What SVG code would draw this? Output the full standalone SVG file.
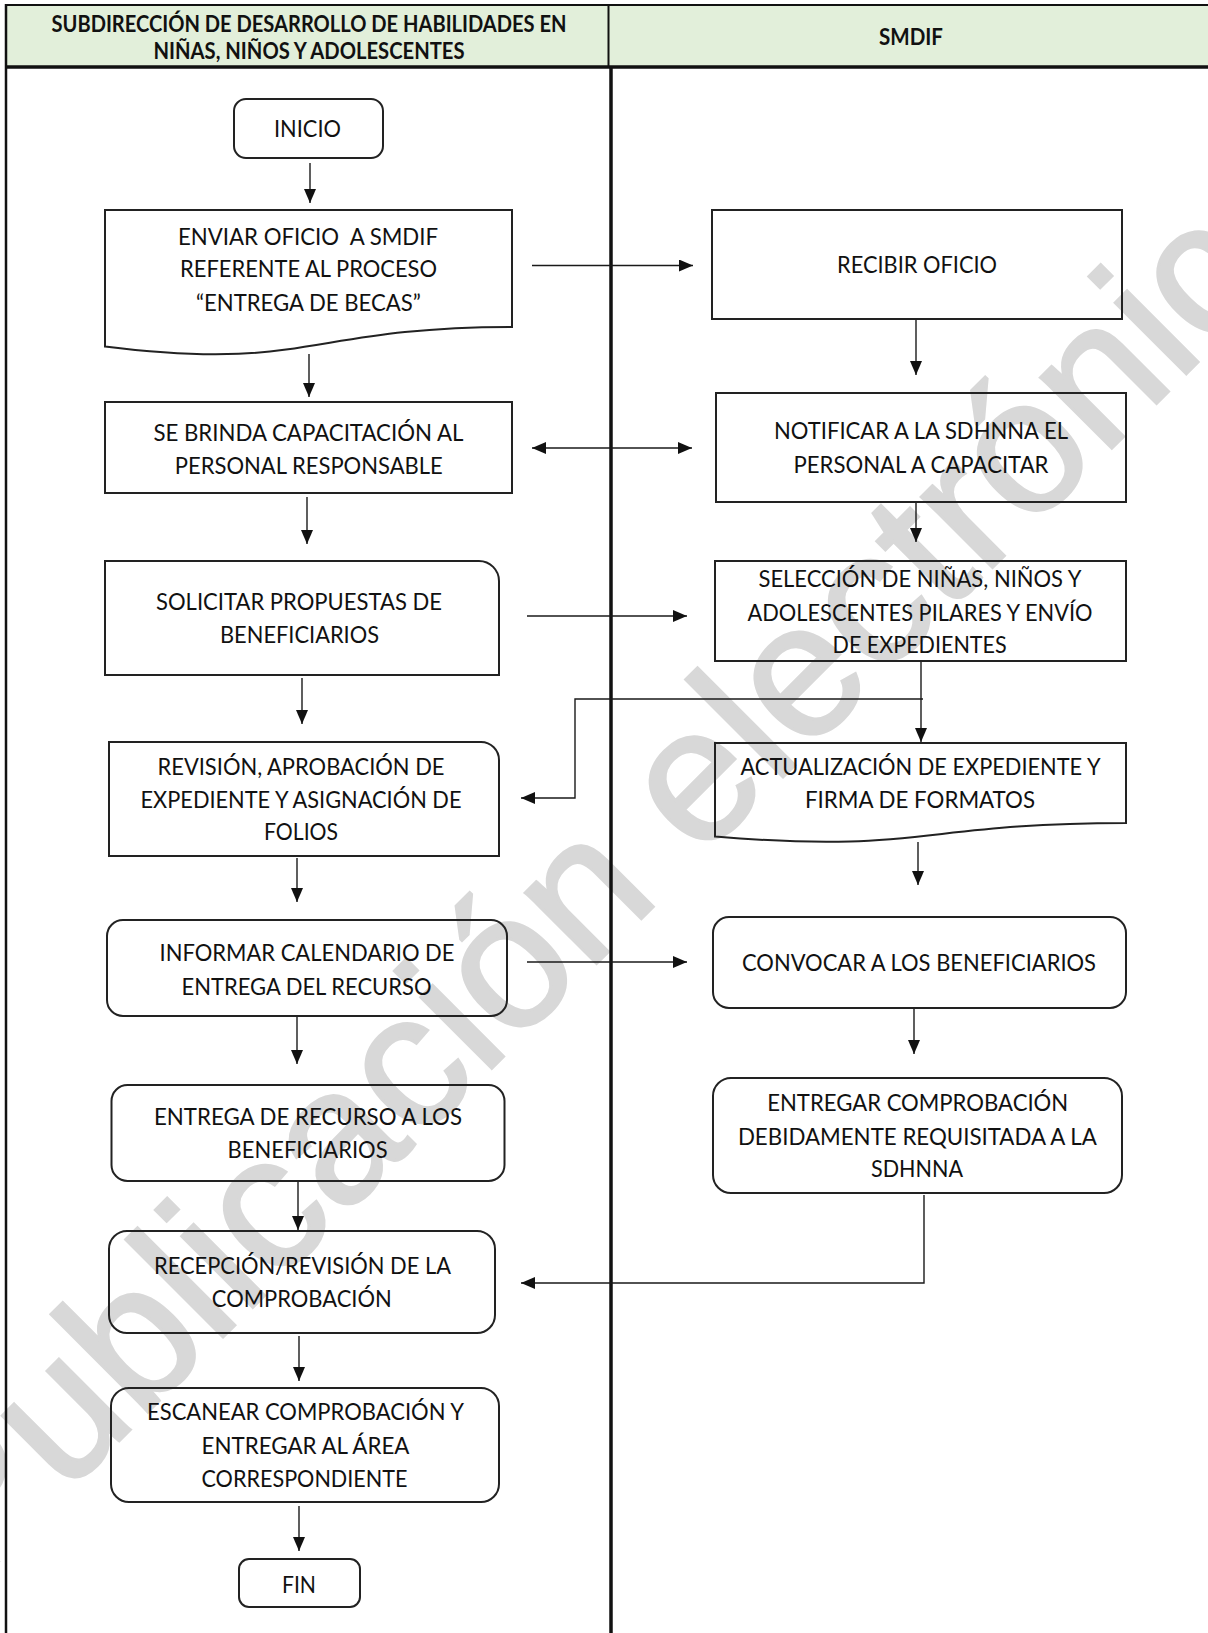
<svg xmlns="http://www.w3.org/2000/svg" width="1208" height="1633" viewBox="0 0 1208 1633">
<style>
.box{fill:none;stroke:#222;stroke-width:2}
.t{font-family:Lato,'Open Sans',sans-serif;font-size:24px;fill:#111;text-anchor:middle}
.h{font-family:Lato,'Open Sans',sans-serif;font-size:23px;font-weight:bold;fill:#111;text-anchor:middle}
.c{fill:none;stroke:#1a1a1a;stroke-width:1.4}
.lane{stroke:#111;fill:none}
.wm{font-family:'Liberation Sans',Arial,sans-serif;font-size:190px;fill:#d8d8d8;stroke:#d8d8d8;stroke-width:3;text-anchor:middle}
</style>
<defs>
<marker id="ah" markerUnits="userSpaceOnUse" markerWidth="14" markerHeight="12" refX="14" refY="6" orient="auto-start-reverse">
<path d="M0,0 L14,6 L0,12 Z" fill="#111"/>
</marker>
</defs>
<rect x="0" y="0" width="1208" height="1633" fill="#fff"/>
<g id="watermark">
<text class="wm" transform="translate(662,898) rotate(-45)">Publicación electrónica</text>
</g>
<g id="lanes">
<rect x="6" y="5" width="1210" height="62" fill="#e2efda"/>
<line class="lane" x1="6" y1="5" x2="1208" y2="5" stroke-width="2"/>
<line class="lane" x1="6" y1="4" x2="6" y2="1633" stroke-width="2.5"/>
<line class="lane" x1="608.5" y1="5" x2="608.5" y2="67" stroke-width="2"/>
<line class="lane" x1="6" y1="67" x2="1208" y2="67" stroke-width="3.5"/>
<line class="lane" x1="611" y1="67" x2="611" y2="1633" stroke-width="3.5"/>
<text class="h" x="309" y="31.7" textLength="515" lengthAdjust="spacingAndGlyphs">SUBDIRECCIÓN DE DESARROLLO DE HABILIDADES EN</text>
<text class="h" x="309" y="59.3" textLength="311" lengthAdjust="spacingAndGlyphs">NIÑAS, NIÑOS Y ADOLESCENTES</text>
<text class="h" x="911" y="45" textLength="64" lengthAdjust="spacingAndGlyphs">SMDIF</text>
</g>
<g id="connectors">
<line class="c" x1="310" y1="163" x2="310" y2="203" marker-end="url(#ah)"/>
<line class="c" x1="532" y1="265.5" x2="693" y2="265.5" marker-end="url(#ah)"/>
<line class="c" x1="309" y1="354" x2="309" y2="397" marker-end="url(#ah)"/>
<line class="c" x1="916" y1="319" x2="916" y2="375" marker-end="url(#ah)"/>
<line class="c" x1="532" y1="448" x2="692" y2="448" marker-start="url(#ah)" marker-end="url(#ah)"/>
<line class="c" x1="916" y1="502" x2="916" y2="542" marker-end="url(#ah)"/>
<line class="c" x1="307" y1="497" x2="307" y2="544" marker-end="url(#ah)"/>
<line class="c" x1="527" y1="616" x2="687" y2="616" marker-end="url(#ah)"/>
<line class="c" x1="302" y1="678" x2="302" y2="724" marker-end="url(#ah)"/>
<line class="c" x1="921" y1="661" x2="921" y2="742" marker-end="url(#ah)"/>
<path class="c" d="M923,699 H575 V798 H521" marker-end="url(#ah)"/>
<line class="c" x1="297" y1="858" x2="297" y2="902" marker-end="url(#ah)"/>
<line class="c" x1="918" y1="842" x2="918" y2="885" marker-end="url(#ah)"/>
<line class="c" x1="527" y1="962" x2="687" y2="962" marker-end="url(#ah)"/>
<line class="c" x1="297" y1="1017" x2="297" y2="1064" marker-end="url(#ah)"/>
<line class="c" x1="914" y1="1009" x2="914" y2="1054" marker-end="url(#ah)"/>
<line class="c" x1="298" y1="1182" x2="298" y2="1230" marker-end="url(#ah)"/>
<path class="c" d="M924,1195 V1283 H521" marker-end="url(#ah)"/>
<line class="c" x1="299" y1="1336" x2="299" y2="1381" marker-end="url(#ah)"/>
<line class="c" x1="299" y1="1506" x2="299" y2="1551" marker-end="url(#ah)"/>
</g>
<g id="n-inicio">
<rect class="box" x="234" y="99" width="149" height="59" rx="12"/>
<text class="t" x="307.5" y="137.3" textLength="67" lengthAdjust="spacingAndGlyphs">INICIO</text>
</g>
<g id="n-enviar">
<path class="box" d="M105,210 H512 V327 C308.5,327 308.5,372 105,346.5 Z"/>
<text class="t" x="308" y="245" textLength="260" lengthAdjust="spacingAndGlyphs">ENVIAR OFICIO&#160; A SMDIF</text>
<text class="t" x="308.5" y="277" textLength="257" lengthAdjust="spacingAndGlyphs">REFERENTE AL PROCESO</text>
<text class="t" x="308.4" y="310.5" textLength="225" lengthAdjust="spacingAndGlyphs">“ENTREGA DE BECAS”</text>
</g>
<g id="n-recibir">
<rect class="box" x="712" y="210" width="410" height="109"/>
<text class="t" x="917" y="272.5" textLength="160" lengthAdjust="spacingAndGlyphs">RECIBIR OFICIO</text>
</g>
<g id="n-capacitacion">
<rect class="box" x="105" y="402" width="407" height="91"/>
<text class="t" x="308.4" y="441" textLength="310" lengthAdjust="spacingAndGlyphs">SE BRINDA CAPACITACIÓN AL</text>
<text class="t" x="308.8" y="474.3" textLength="268" lengthAdjust="spacingAndGlyphs">PERSONAL RESPONSABLE</text>
</g>
<g id="n-notificar">
<rect class="box" x="716" y="393" width="410" height="109"/>
<text class="t" x="921" y="439.3" textLength="294" lengthAdjust="spacingAndGlyphs">NOTIFICAR A LA SDHNNA EL</text>
<text class="t" x="921" y="473.3" textLength="255" lengthAdjust="spacingAndGlyphs">PERSONAL A CAPACITAR</text>
</g>
<g id="n-solicitar">
<path class="box" d="M105,561 H479 A20,20 0 0 1 499,581 V675 H105 Z"/>
<text class="t" x="299" y="610" textLength="286" lengthAdjust="spacingAndGlyphs">SOLICITAR PROPUESTAS DE</text>
<text class="t" x="299.5" y="643.3" textLength="159" lengthAdjust="spacingAndGlyphs">BENEFICIARIOS</text>
</g>
<g id="n-seleccion">
<rect class="box" x="715" y="561" width="411" height="100"/>
<text class="t" x="920" y="586.7" textLength="323" lengthAdjust="spacingAndGlyphs">SELECCIÓN DE NIÑAS, NIÑOS Y</text>
<text class="t" x="920" y="620.7" textLength="345" lengthAdjust="spacingAndGlyphs">ADOLESCENTES PILARES Y ENVÍO</text>
<text class="t" x="919.6" y="652.7" textLength="174" lengthAdjust="spacingAndGlyphs">DE EXPEDIENTES</text>
</g>
<g id="n-revision">
<path class="box" d="M109,742 H481 A18,18 0 0 1 499,760 V856 H109 Z"/>
<text class="t" x="301" y="775" textLength="287" lengthAdjust="spacingAndGlyphs">REVISIÓN, APROBACIÓN DE</text>
<text class="t" x="301" y="808.3" textLength="321" lengthAdjust="spacingAndGlyphs">EXPEDIENTE Y ASIGNACIÓN DE</text>
<text class="t" x="301" y="840" textLength="74" lengthAdjust="spacingAndGlyphs">FOLIOS</text>
</g>
<g id="n-actualizacion">
<path class="box" d="M715,743 H1126 V823 C920.5,823 920.5,854 715,836.5 Z"/>
<text class="t" x="920.5" y="775" textLength="360" lengthAdjust="spacingAndGlyphs">ACTUALIZACIÓN DE EXPEDIENTE Y</text>
<text class="t" x="920" y="808.3" textLength="230" lengthAdjust="spacingAndGlyphs">FIRMA DE FORMATOS</text>
</g>
<g id="n-informar">
<rect class="box" x="107" y="920" width="400" height="96" rx="16"/>
<text class="t" x="307" y="960.7" textLength="295" lengthAdjust="spacingAndGlyphs">INFORMAR CALENDARIO DE</text>
<text class="t" x="306.5" y="995" textLength="250" lengthAdjust="spacingAndGlyphs">ENTREGA DEL RECURSO</text>
</g>
<g id="n-convocar">
<rect class="box" x="713" y="917" width="413" height="91" rx="16"/>
<text class="t" x="919" y="970.7" textLength="354" lengthAdjust="spacingAndGlyphs">CONVOCAR A LOS BENEFICIARIOS</text>
</g>
<g id="n-entrega">
<rect class="box" x="111.5" y="1085" width="393" height="96" rx="16"/>
<text class="t" x="308" y="1125" textLength="308" lengthAdjust="spacingAndGlyphs">ENTREGA DE RECURSO A LOS</text>
<text class="t" x="307.6" y="1158.3" textLength="160" lengthAdjust="spacingAndGlyphs">BENEFICIARIOS</text>
</g>
<g id="n-entregar-comprobacion">
<rect class="box" x="713" y="1078" width="409" height="115" rx="18"/>
<text class="t" x="917.7" y="1110.7" textLength="301" lengthAdjust="spacingAndGlyphs">ENTREGAR COMPROBACIÓN</text>
<text class="t" x="917.4" y="1145" textLength="359" lengthAdjust="spacingAndGlyphs">DEBIDAMENTE REQUISITADA A LA</text>
<text class="t" x="917" y="1177.3" textLength="92" lengthAdjust="spacingAndGlyphs">SDHNNA</text>
</g>
<g id="n-recepcion">
<rect class="box" x="109" y="1231" width="386" height="102" rx="18"/>
<text class="t" x="302.5" y="1274" textLength="297" lengthAdjust="spacingAndGlyphs">RECEPCIÓN/REVISIÓN DE LA</text>
<text class="t" x="301.8" y="1307.3" textLength="180" lengthAdjust="spacingAndGlyphs">COMPROBACIÓN</text>
</g>
<g id="n-escanear">
<rect class="box" x="111" y="1388" width="388" height="114" rx="18"/>
<text class="t" x="305.5" y="1420" textLength="317" lengthAdjust="spacingAndGlyphs">ESCANEAR COMPROBACIÓN Y</text>
<text class="t" x="305.5" y="1454" textLength="208" lengthAdjust="spacingAndGlyphs">ENTREGAR AL ÁREA</text>
<text class="t" x="304.5" y="1486.7" textLength="206" lengthAdjust="spacingAndGlyphs">CORRESPONDIENTE</text>
</g>
<g id="n-fin">
<rect class="box" x="239" y="1559" width="121" height="48" rx="10"/>
<text class="t" x="299" y="1592.7" textLength="34" lengthAdjust="spacingAndGlyphs">FIN</text>
</g>
</svg>
